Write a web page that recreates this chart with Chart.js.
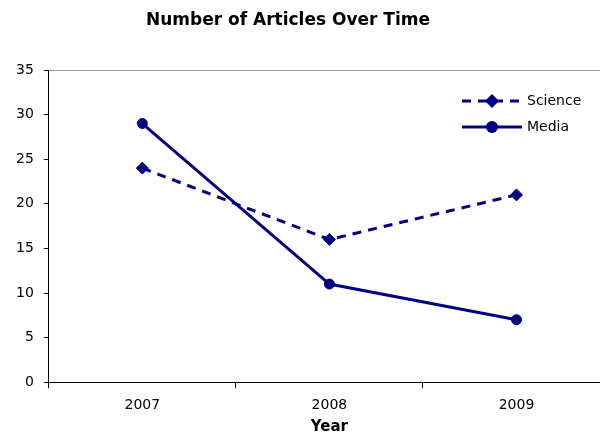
<!DOCTYPE html>
<html lang="en">
<head>
<meta charset="UTF-8">
<title>Number of Articles Over Time</title>
<script src="https://cdn.jsdelivr.net/npm/chart.js"></script>
<style>
  html, body { margin: 0; padding: 0; overflow: hidden; background: #fff; }
  .wrap { width: 620px; height: 434px; }
</style>
</head>
<body>
<div class="wrap"><canvas id="articlesChart" width="620" height="434"></canvas></div>
<script>
// article counts per year
const years = ["2007", "2008", "2009"];
const science = [24, 16, 21];
const media = [29, 11, 7];
const yMin = 0;
const yMax = 35;
const yStep = 5;

const navy = "#000080";
const FONT = "'DejaVu Sans', Verdana, sans-serif";

// bold title, drawn a bit left of the canvas centre
const titlePlugin = {
  id: "titleText",
  afterDraw(chart) {
    const ctx = chart.ctx;
    ctx.save();
    ctx.font = "bold 17px " + FONT;
    ctx.fillStyle = "#000";
    ctx.textAlign = "center";
    ctx.textBaseline = "middle";
    ctx.fillText("Number of Articles Over Time", 288, 21);
    ctx.restore();
  }
};

// thin grey line along the top of the plot area
const frameTop = {
  id: "frameTop",
  beforeDatasetsDraw(chart) {
    const { ctx, chartArea } = chart;
    ctx.save();
    ctx.strokeStyle = "#999";
    ctx.lineWidth = 1;
    ctx.beginPath();
    ctx.moveTo(chartArea.left, chartArea.top + 0.5);
    ctx.lineTo(chartArea.right, chartArea.top + 0.5);
    ctx.stroke();
    ctx.restore();
  }
};

// legend box inside the plot, top right
const innerLegend = {
  id: "innerLegend",
  afterDraw(chart) {
    const ctx = chart.ctx;
    const x0 = 462, x1 = 522, textX = 527;
    let y = 101;
    chart.data.datasets.forEach(ds => {
      ctx.save();
      ctx.strokeStyle = ds.borderColor;
      ctx.lineWidth = ds.borderWidth;
      ctx.setLineDash(ds.borderDash || []);
      ctx.beginPath();
      ctx.moveTo(x0, y);
      ctx.lineTo(x1, y);
      ctx.stroke();
      ctx.setLineDash([]);
      const mx = 492;
      const r = ds.pointRadius + 1;
      ctx.fillStyle = ds.pointBackgroundColor;
      ctx.beginPath();
      if (ds.pointStyle === "rectRot") {
        ctx.moveTo(mx - r, y);
        ctx.lineTo(mx, y - r);
        ctx.lineTo(mx + r, y);
        ctx.lineTo(mx, y + r);
        ctx.closePath();
      } else {
        ctx.arc(mx, y, r, 0, Math.PI * 2);
      }
      ctx.fill();
      ctx.fillStyle = "#000";
      ctx.font = "14px " + FONT;
      ctx.textAlign = "left";
      ctx.textBaseline = "middle";
      ctx.fillText(ds.label, textX, y);
      ctx.restore();
      y += 26;
    });
  }
};

new Chart(document.getElementById("articlesChart"), {
  type: "line",
  data: {
    labels: years,
    datasets: [
      {
        label: "Science",
        data: science,
        borderColor: navy,
        borderWidth: 3,
        borderDash: [9, 7],
        pointStyle: "rectRot",
        pointRadius: 6,
        pointBackgroundColor: navy,
        pointBorderColor: navy,
        pointBorderWidth: 1,
        tension: 0,
        fill: false
      },
      {
        label: "Media",
        data: media,
        borderColor: navy,
        borderWidth: 3,
        pointStyle: "circle",
        pointRadius: 5,
        pointBackgroundColor: navy,
        pointBorderColor: navy,
        pointBorderWidth: 1,
        tension: 0,
        fill: false
      }
    ]
  },
  options: {
    responsive: false,
    animation: false,
    layout: { padding: { left: 6, right: 10, top: 70, bottom: 2 } },
    plugins: {
      legend: { display: false },
      tooltip: { enabled: false }
    },
    scales: {
      x: {
        offset: true,
        grid: {
          offset: true,
          drawOnChartArea: false,
          drawTicks: true,
          tickLength: 6,
          color: "#000"
        },
        border: { color: "#000", width: 1 },
        ticks: { color: "#000", padding: 9, font: { family: FONT, size: 14 } },
        title: {
          display: true,
          text: "Year",
          color: "#000",
          padding: { top: -5, bottom: -4 },
          font: { family: FONT, size: 15, weight: "bold" }
        }
      },
      y: {
        min: yMin,
        max: yMax,
        ticks: { stepSize: yStep, color: "#000", padding: 10, font: { family: FONT, size: 14 } },
        grid: {
          drawOnChartArea: false,
          drawTicks: true,
          tickLength: 5,
          color: "#000"
        },
        border: { color: "#000", width: 1 }
      }
    }
  },
  plugins: [titlePlugin, frameTop, innerLegend]
});
</script>
</body>
</html>
